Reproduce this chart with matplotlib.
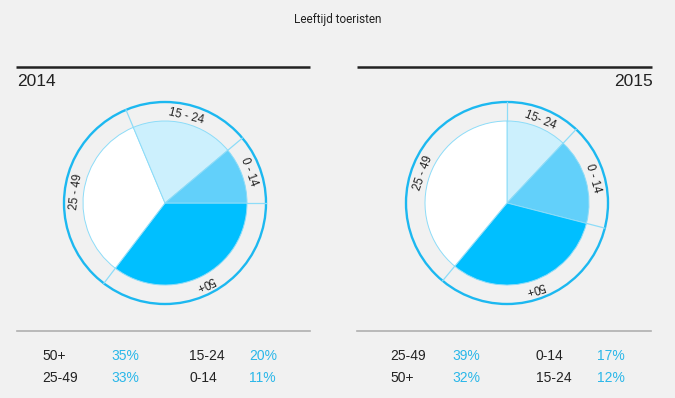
import numpy as np
import matplotlib.pyplot as plt
from matplotlib.patches import Circle

plt.rcParams['font.family'] = ['Liberation Sans', 'DejaVu Sans']

title = 'Leeftijd toeristen'

# 2014: drawn clockwise from 3 o'clock
labels_2014 = ['50+', '25 - 49', '15 - 24', '0 - 14']
values_2014 = [35, 33, 20, 11]
colors_2014 = ['#00bfff', '#ffffff', '#ccf0fd', '#62d0fa']

# 2015: drawn clockwise from 12 o'clock
labels_2015 = ['15- 24', '0 - 14', '50+', '25 - 49']
values_2015 = [12, 17, 32, 39]
colors_2015 = ['#ccf0fd', '#62d0fa', '#00bfff', '#ffffff']

table_2014 = [('50+', '35%', '15-24', '20%'), ('25-49', '33%', '0-14', '11%')]
table_2015 = [('25-49', '39%', '0-14', '17%'), ('50+', '32%', '15-24', '12%')]

W, H = 675, 398
bg = '#f1f1f1'
ring_col = '#1cb8f0'
edge_col = '#8ddcf8'
pct_col = '#2ab7e9'
dark = '#222222'

fig = plt.figure(figsize=(W / 100, H / 100), dpi=100, facecolor=bg)
ax = fig.add_axes([0, 0, 1, 1])
ax.set_xlim(0, W)
ax.set_ylim(0, H)
ax.set_aspect('equal')
ax.axis('off')


def py(y):
    # pixel row (from top) -> data y
    return H - y


def draw_pie(cx, cy, values, labels, colors, start):
    r_in, r_out = 82, 101
    wedges, _ = ax.pie(values, colors=colors, startangle=start, counterclock=False,
                       center=(cx, py(cy)), radius=r_in,
                       wedgeprops=dict(edgecolor=edge_col, linewidth=0.7))
    ax.add_patch(Circle((cx, py(cy)), r_out, fill=False, ec=ring_col, lw=1.7))
    for w, lab in zip(wedges, labels):
        t = np.deg2rad(w.theta1)
        ax.plot([cx + r_in * np.cos(t), cx + r_out * np.cos(t)],
                [py(cy) + r_in * np.sin(t), py(cy) + r_out * np.sin(t)],
                color=edge_col, lw=0.9)
        mid = (w.theta1 + w.theta2) / 2
        m = np.deg2rad(mid)
        ax.text(cx + 89.5 * np.cos(m), py(cy) + 89.5 * np.sin(m), lab,
                rotation=mid - 90, rotation_mode='anchor',
                ha='center', va='center', fontsize=8.3, color=dark)
    ax.set_xlim(0, W)
    ax.set_ylim(0, H)


def draw_table(rows, xs, y0):
    for i, row in enumerate(rows):
        y = py(y0 + i * 21.5)
        for j, (x, txt) in enumerate(zip(xs, row)):
            ax.text(x, y, txt, ha='left', va='center', fontsize=10,
                    color=pct_col if j % 2 else dark)


ax.text(W / 2, py(19), title, ha='center', va='center', fontsize=8.5, color=dark,
        family=['Roboto', 'Liberation Sans', 'DejaVu Sans'])

# header rules and years
ax.plot([16, 310], [py(67), py(67)], color=dark, lw=1.8, solid_capstyle='butt')
ax.plot([357, 652], [py(67), py(67)], color=dark, lw=1.8, solid_capstyle='butt')
ax.text(17, py(81), '2014', ha='left', va='center', fontsize=12.5, color=dark)
ax.text(653, py(81), '2015', ha='right', va='center', fontsize=12.5, color=dark)

draw_pie(165, 203, values_2014, labels_2014, colors_2014, 0)
draw_pie(507, 203, values_2015, labels_2015, colors_2015, 90)

# footer rules
ax.plot([17, 310], [py(331), py(331)], color='#b0b0b0', lw=1.2)
ax.plot([357, 651], [py(331), py(331)], color='#b0b0b0', lw=1.2)

draw_table(table_2014, [42, 111, 189, 249], 356)
draw_table(table_2015, [390, 452, 536, 597], 356)

fig.savefig('out.png', dpi=100, facecolor=bg)
